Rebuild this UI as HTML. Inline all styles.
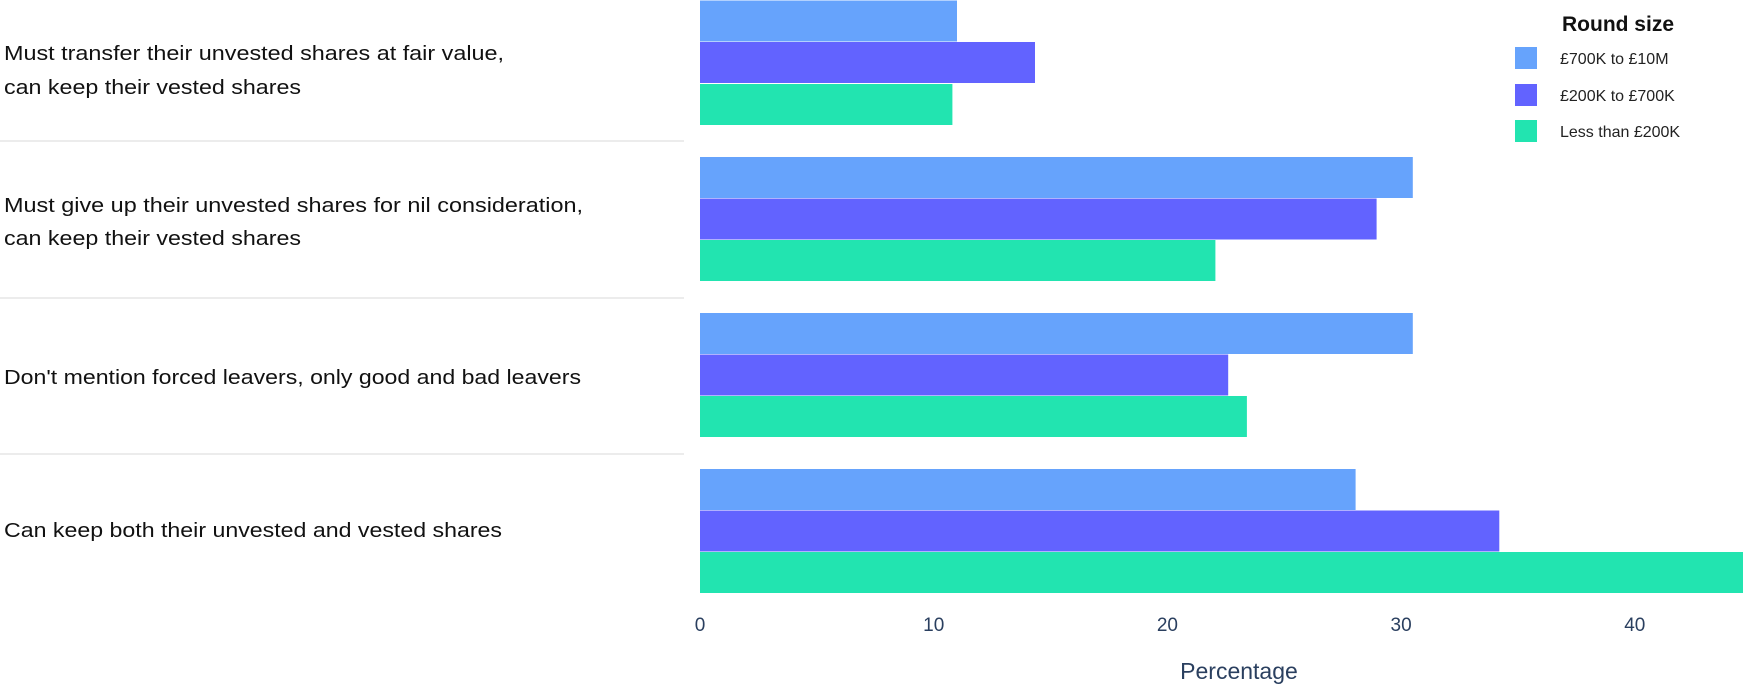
<!DOCTYPE html>
<html><head><meta charset="utf-8"><style>body{margin:0;background:#fff}svg{display:block}</style></head>
<body>
<svg width="1743" height="690" xmlns="http://www.w3.org/2000/svg" font-family="Liberation Sans, sans-serif">
<g stroke="#e5e5e5" stroke-width="1.5">
<line x1="0" y1="141" x2="684" y2="141"/><line x1="0" y1="298" x2="684" y2="298"/><line x1="0" y1="454" x2="684" y2="454"/>
</g>
<g>
<rect x="700" y="0.5" width="257" height="41" fill="#66a3fc"/>
<rect x="700" y="42" width="335" height="41" fill="#6263ff"/>
<rect x="700" y="84" width="252.4" height="41" fill="#22e4b0"/>
<rect x="700" y="157" width="712.8" height="41" fill="#66a3fc"/>
<rect x="700" y="198.5" width="676.6" height="41" fill="#6263ff"/>
<rect x="700" y="240" width="515.4" height="41" fill="#22e4b0"/>
<rect x="700" y="313" width="712.8" height="41" fill="#66a3fc"/>
<rect x="700" y="354.5" width="528.2" height="41" fill="#6263ff"/>
<rect x="700" y="396" width="546.9" height="41" fill="#22e4b0"/>
<rect x="700" y="469" width="655.6" height="41" fill="#66a3fc"/>
<rect x="700" y="510.5" width="799.3" height="41" fill="#6263ff"/>
<rect x="700" y="552" width="1043" height="41" fill="#22e4b0"/>
</g>
<g font-size="20" fill="#111">
<text x="4" y="60" textLength="500" lengthAdjust="spacingAndGlyphs">Must transfer their unvested shares at fair value,</text>
<text x="4" y="94" textLength="297" lengthAdjust="spacingAndGlyphs">can keep their vested shares</text>
<text x="4" y="212" textLength="579" lengthAdjust="spacingAndGlyphs">Must give up their unvested shares for nil consideration,</text>
<text x="4" y="245" textLength="297" lengthAdjust="spacingAndGlyphs">can keep their vested shares</text>
<text x="4" y="384" textLength="577" lengthAdjust="spacingAndGlyphs">Don't mention forced leavers, only good and bad leavers</text>
<text x="4" y="537" textLength="498" lengthAdjust="spacingAndGlyphs">Can keep both their unvested and vested shares</text>
</g>
<g font-size="19" fill="#2a3f5f" text-anchor="middle">
<text x="700" y="631">0</text><text x="933.7" y="631">10</text><text x="1167.4" y="631">20</text><text x="1401.1" y="631">30</text><text x="1634.8" y="631">40</text>
<text x="1239" y="679" font-size="23">Percentage</text>
</g>
<text x="1562" y="31" font-size="21" font-weight="bold" fill="#111">Round size</text>
<rect x="1515" y="47" width="22" height="22" fill="#66a3fc"/>
<rect x="1515" y="84" width="22" height="22" fill="#6263ff"/>
<rect x="1515" y="120" width="22" height="22" fill="#22e4b0"/>
<g font-size="16" fill="#222">
<text x="1560" y="64">£700K to £10M</text>
<text x="1560" y="101">£200K to £700K</text>
<text x="1560" y="137">Less than £200K</text>
</g>
</svg>
</body></html>
